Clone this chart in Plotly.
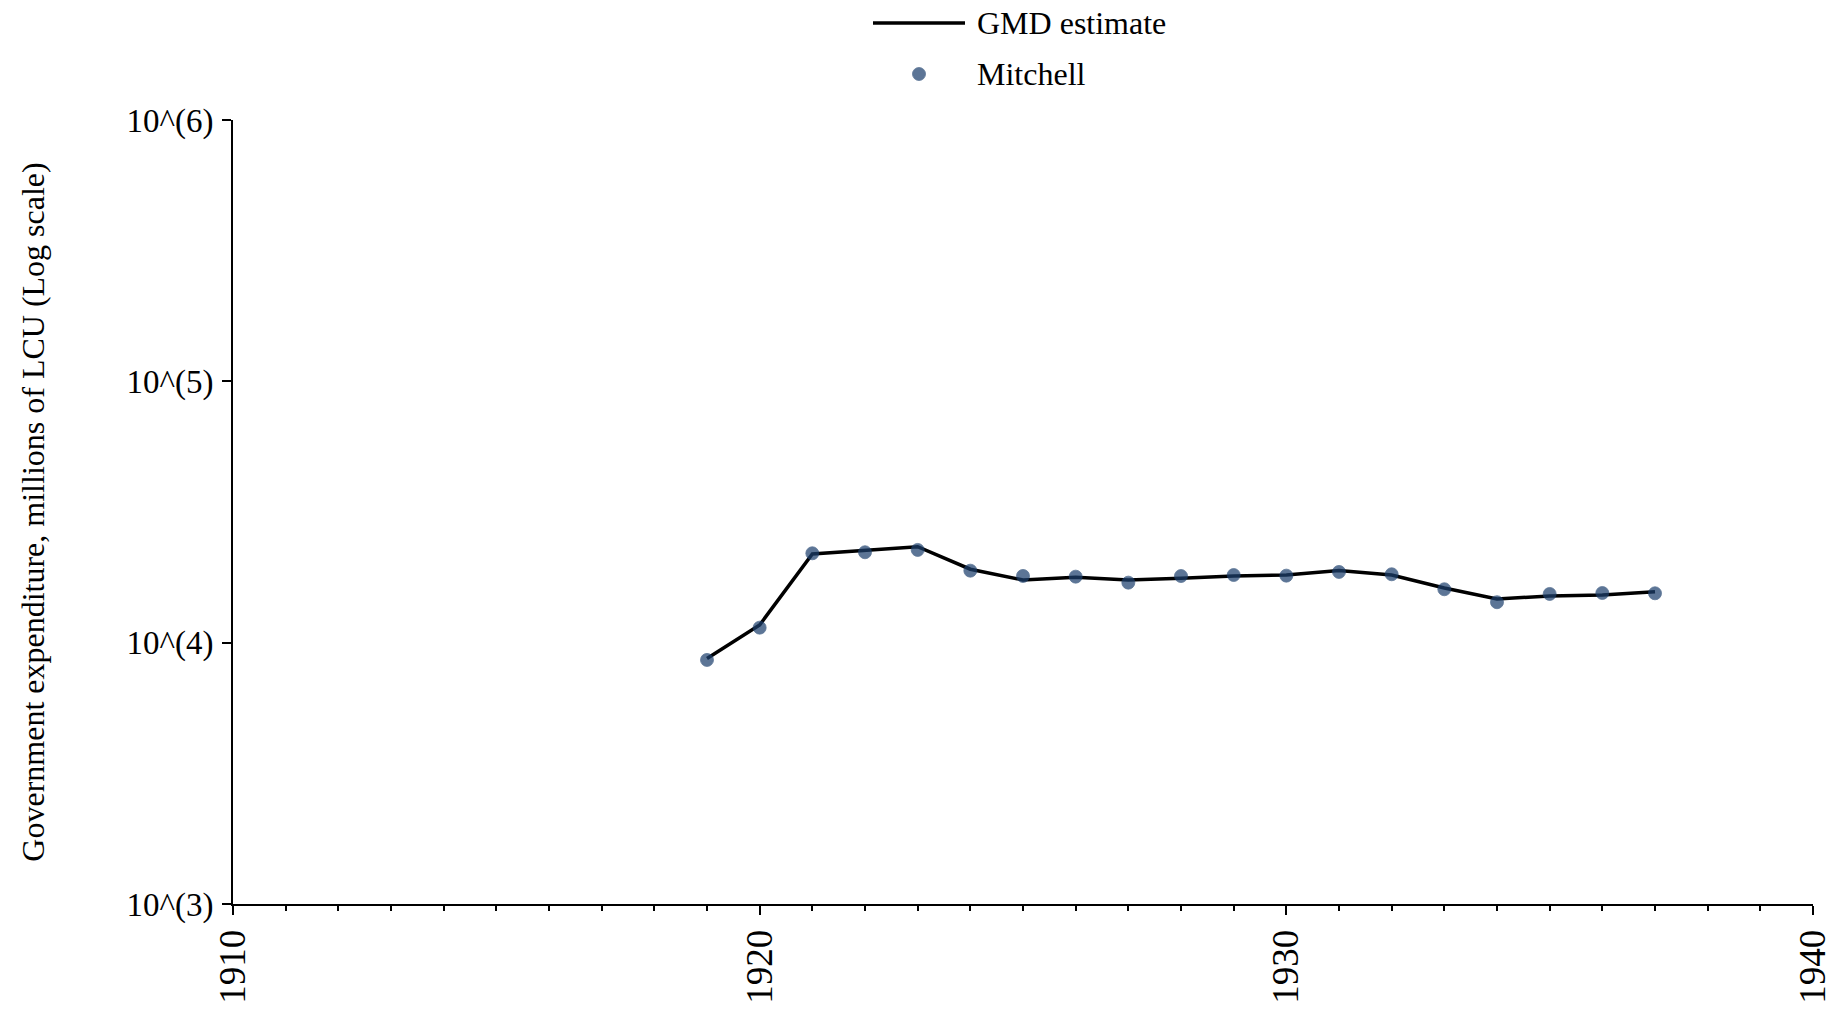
import plotly.graph_objects as go

# ---- data ----
years = [1919, 1920, 1921, 1922, 1923, 1924, 1925, 1926, 1927, 1928,
         1929, 1930, 1931, 1932, 1933, 1934, 1935, 1936, 1937]
gmd_estimate = [8700, 11690, 21850, 22600, 23300, 19100, 17380, 17790, 17380, 17640,
                18000, 18150, 18870, 18150, 16180, 14690, 15100, 15220, 15670]
mitchell = [8590, 11415, 21980, 22180, 22640, 18860, 18000, 17890, 16970, 17990,
            18150, 18050, 18650, 18270, 16010, 14280, 15360, 15490, 15450]

y_tickvals = [1e3, 1e4, 1e5, 1e6]
y_ticktext = ["10^(3)", "10^(4)", "10^(5)", "10^(6)"]
x_tickvals = [1910, 1920, 1930, 1940]
x_ticktext = ["1910", "1920", "1930", "1940"]

FONT = "Liberation Serif, Times New Roman, serif"
MARKER_COLOR = "rgb(30,65,110)"

W, H = 1837, 1010
L, R, T, B = 233, 24, 120, 106
PW, PH = W - L - R, H - T - B

fig = go.Figure()
fig.add_trace(go.Scatter(
    x=years, y=gmd_estimate, mode="lines", name="GMD estimate",
    line=dict(color="black", width=3.5), showlegend=False,
))
fig.add_trace(go.Scatter(
    x=years, y=mitchell, mode="markers", name="Mitchell",
    marker=dict(color=MARKER_COLOR, size=13, opacity=0.72,
                line=dict(color=MARKER_COLOR, width=0.8)),
    showlegend=False,
))

# custom legend (top centre), positions in page pixels converted to paper
def px_x(px):
    return (px - L) / PW

def px_y(py):
    return (H - B - py) / PH

fig.add_shape(type="line", xref="paper", yref="paper",
              x0=px_x(873), x1=px_x(965), y0=px_y(23), y1=px_y(23),
              line=dict(color="black", width=3.5))
fig.add_shape(type="circle", xref="paper", yref="paper",
              x0=px_x(919 - 6.5), x1=px_x(919 + 6.5),
              y0=px_y(74 + 6.5), y1=px_y(74 - 6.5),
              fillcolor=MARKER_COLOR, opacity=0.72,
              line=dict(color=MARKER_COLOR, width=0.8))
fig.add_annotation(xref="paper", yref="paper", x=px_x(975), y=px_y(23),
                   text="GMD estimate", showarrow=False, xanchor="left",
                   yanchor="middle", font=dict(family=FONT, size=32, color="black"))
fig.add_annotation(xref="paper", yref="paper", x=px_x(975), y=px_y(74),
                   text="Mitchell", showarrow=False, xanchor="left",
                   yanchor="middle", font=dict(family=FONT, size=32, color="black"))

fig.update_layout(
    width=W, height=H,
    margin=dict(l=L, r=R, t=T, b=B, autoexpand=False),
    paper_bgcolor="white", plot_bgcolor="white",
    font=dict(family=FONT, color="black", size=32),
    showlegend=False,
)
fig.update_xaxes(
    range=[1910, 1940], showgrid=False, zeroline=False,
    showline=True, linecolor="black", linewidth=2,
    tickmode="array", tickvals=x_tickvals, ticktext=x_ticktext,
    ticks="outside", ticklen=9, tickwidth=2, tickcolor="black",
    tickangle=-90, tickfont=dict(family=FONT, size=37, color="black"),
    ticklabelstandoff=0, ticklabeloverflow="allow",
    minor=dict(dtick=1, ticks="outside", ticklen=5, tickwidth=1.5,
               tickcolor="black", showgrid=False),
)
fig.update_yaxes(
    type="log", range=[3, 6], showgrid=False, zeroline=False,
    showline=True, linecolor="black", linewidth=2,
    tickmode="array", tickvals=y_tickvals, ticktext=y_ticktext,
    ticks="outside", ticklen=9, tickwidth=2, tickcolor="black",
    tickfont=dict(family=FONT, size=33, color="black"),
    ticklabelstandoff=2, ticklabeloverflow="allow",
    title=dict(text="Government expenditure, millions of LCU (Log scale)",
               font=dict(family=FONT, size=32, color="black"), standoff=72),
)

fig.write_html(
    "out.html",
    config={"displayModeBar": False},
    post_script="document.body.style.margin='0';document.body.style.overflow='hidden';",
)
